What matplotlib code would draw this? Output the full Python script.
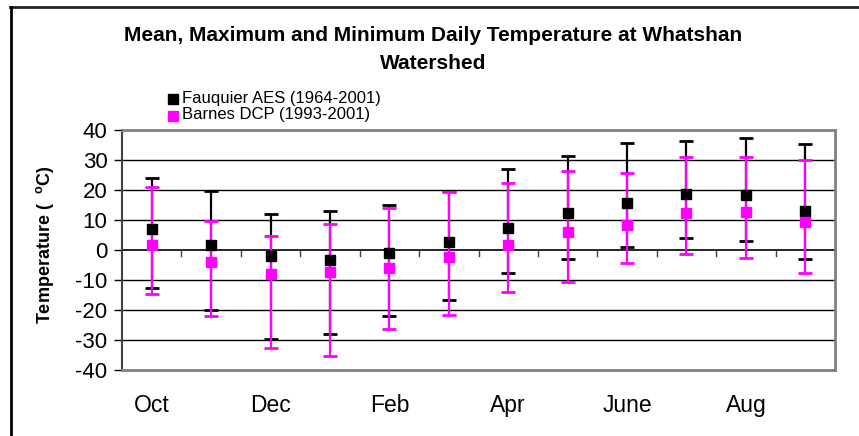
import matplotlib
matplotlib.use("Agg")
import matplotlib.pyplot as plt
import numpy as np

plt.rcParams['font.family'] = ['Liberation Sans', 'DejaVu Sans']
plt.rcParams['mathtext.fontset'] = 'custom'
plt.rcParams['mathtext.rm'] = 'Liberation Sans'
plt.rcParams['mathtext.bf'] = 'Liberation Sans:bold'

months = ["Oct", "Nov", "Dec", "Jan", "Feb", "Mar", "Apr", "May", "June", "Jul", "Aug", "Sep"]
shown_labels = ["Oct", "", "Dec", "", "Feb", "", "Apr", "", "June", "", "Aug", ""]

fauquier_mean = [7, 1.8, -2.1, -3.2, -1, 2.8, 7.4, 12.2, 15.8, 18.6, 18.2, 12.9]
fauquier_max = [24, 19.6, 12, 13, 15, 19.6, 26.9, 31.2, 35.7, 36.2, 37.2, 35.2]
fauquier_min = [-12.6, -20, -29.7, -27.9, -22.1, -16.7, -7.8, -2.9, 1.1, 4.1, 3, -2.9]

barnes_mean = [1.7, -4.1, -7.9, -7.2, -5.9, -2.3, 1.6, 6, 8.4, 12.3, 12.8, 9.4]
barnes_max = [21, 9.7, 4.8, 8.8, 14.1, 19.3, 22.2, 26.4, 25.8, 31.1, 31, 29.9]
barnes_min = [-14.7, -22.1, -32.6, -35.4, -26.3, -21.7, -14.1, -10.7, -4.3, -1.3, -2.7, -7.6]

series_names = ["Fauquier AES (1964-2001)", "Barnes DCP (1993-2001)"]
colors = ["black", "#FF00FF"]

W, H = 859, 436
fig = plt.figure(figsize=(W/100, H/100), dpi=100)
ax = fig.add_axes([122/W, 1-370/H, (835-122)/W, 240/H])

x = np.arange(len(months))
series = [(fauquier_mean, fauquier_max, fauquier_min), (barnes_mean, barnes_max, barnes_min)]

# error bars first
for (m, mx, mn), c in zip(series, colors):
    m = np.array(m); mx = np.array(mx); mn = np.array(mn)
    ax.errorbar(x, m, yerr=[m - mn, mx - m], fmt='none', ecolor=c,
                elinewidth=1.6, capsize=4.7, capthick=2, zorder=3)
# markers on top
for (m, mx, mn), c, name in zip(series, colors, series_names):
    ax.plot(x, m, linestyle='none', marker='s', markersize=7,
            color=c, zorder=5, label=name)

ax.set_xlim(-0.5, 11.5)
ax.set_ylim(-40, 40)
ax.set_yticks(np.arange(-40, 41, 10))
ax.set_yticklabels([str(v) for v in range(-40, 41, 10)], fontsize=16)
for v in range(-30, 31, 10):
    if v != 0:
        ax.axhline(v, color='black', linewidth=1, zorder=1)
ax.axhline(0, color='black', linewidth=1.2, zorder=2)

# category boundary ticks on zero line
for b in np.arange(0.5, 11.6, 1.0):
    ax.plot([b, b], [0, -2], color='#404040', linewidth=1, zorder=2, clip_on=False)

ax.set_xticks(x)
ax.set_xticklabels(shown_labels, fontsize=16.5)
ax.tick_params(axis='x', length=0, pad=17)
ax.tick_params(axis='y', length=5.5, width=1, color='black', pad=5)

for s in ['top', 'right', 'bottom']:
    ax.spines[s].set_color('#808080')
    ax.spines[s].set_linewidth(2)
ax.spines['left'].set_color('#404040')
ax.spines['left'].set_linewidth(1.5)

fig.text(45/W, 1-245/H, r"Temperature (  $^{\mathbf{o}}$C)", rotation=90,
         ha='center', va='center', fontsize=13, fontweight='bold')

fig.text(433/W, 1-49.5/H, "Mean, Maximum and Minimum Daily Temperature at Whatshan\nWatershed",
         ha='center', va='center', fontsize=15, fontweight='bold', linespacing=1.55)

# legend (manual, tight line spacing as in the reference)
legend_y = [98.5, 115]
for name, c, yy in zip(series_names, colors, legend_y):
    fig.add_artist(plt.Line2D([172.5/W], [1-(yy+1)/H], marker='s', markersize=6.5,
                              color=c, linestyle='none', transform=fig.transFigure))
    fig.text(182/W, 1-yy/H, name, ha='left', va='center', fontsize=12)

# figure border (top and left)
fig.add_artist(plt.Line2D([10/W, 858/W], [1-7.5/H, 1-7.5/H], color='#222222', linewidth=2, transform=fig.transFigure))
fig.add_artist(plt.Line2D([10.5/W, 10.5/W], [0, 1-7.5/H], color='black', linewidth=2, transform=fig.transFigure))

fig.savefig("out.png", dpi=100)
